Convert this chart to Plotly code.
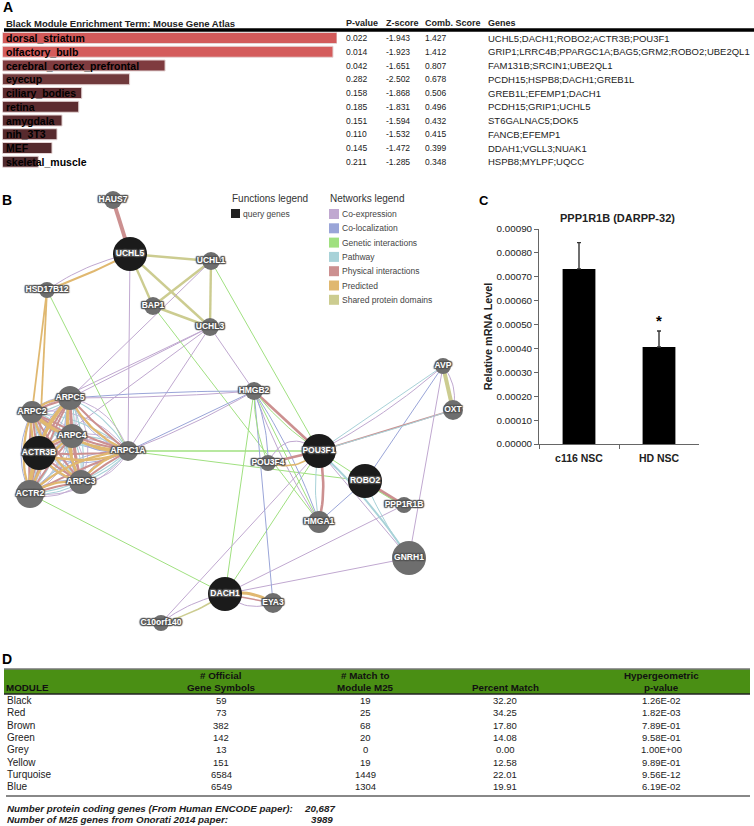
import plotly.graph_objects as go

W, H = 754, 826
FONT = "Liberation Sans"

# ---------- Panel A data ----------
a_terms = ["dorsal_striatum", "olfactory_bulb", "cerebral_cortex_prefrontal", "eyecup", "ciliary_bodies",
           "retina", "amygdala", "nih_3T3", "MEF", "skeletal_muscle"]
a_bar_length = [100, 98.8, 48.6, 38, 23.7, 22.8, 17.8, 16.3, 14.8, 10.7]
a_pvalue = ["0.022", "0.014", "0.042", "0.282", "0.158", "0.185", "0.151", "0.110", "0.145", "0.211"]
a_zscore = ["-1.943", "-1.923", "-1.651", "-2.502", "-1.868", "-1.831", "-1.594", "-1.532", "-1.472", "-1.285"]
a_comb = ["1.427", "1.412", "0.807", "0.678", "0.506", "0.496", "0.432", "0.415", "0.399", "0.348"]
a_genes = ["UCHL5;DACH1;ROBO2;ACTR3B;POU3F1", "GRIP1;LRRC4B;PPARGC1A;BAG5;GRM2;ROBO2;UBE2QL1",
           "FAM131B;SRCIN1;UBE2QL1", "PCDH15;HSPB8;DACH1;GREB1L", "GREB1L;EFEMP1;DACH1",
           "PCDH15;GRIP1;UCHL5", "ST6GALNAC5;DOK5", "FANCB;EFEMP1", "DDAH1;VGLL3;NUAK1", "HSPB8;MYLPF;UQCC"]
a_colors = ["#D25A5A", "#D45C5C", "#7F3B3F", "#713A3C", "#5E2B2F", "#5C2A2E", "#5A2B2E", "#572A2D", "#552A2D", "#4F2A2E"]

# ---------- Panel B data ----------
net_types = ["Co-expression", "Co-localization", "Genetic interactions", "Pathway",
             "Physical interactions", "Predicted", "Shared protein domains"]
net_colors = ["#C0A8D0", "#9AA5D8", "#A0E080", "#A8D2D8", "#CC9090", "#E0B870", "#CCCC90"]
node_names = ["HAUS7", "UCHL5", "UCHL1", "HSD17B12", "BAP1", "UCHL3", "ARPC5", "ARPC2", "ARPC4", "ACTR3B",
              "ARPC1A", "ARPC3", "ACTR2", "DACH1", "C10orf140", "HMGB2", "AVP", "OXT", "POU3F1", "POU3F4",
              "ROBO2", "PPP1R1B", "HMGA1", "GNRH1", "EYA3"]
node_x = [113, 130, 211, 47, 153, 210, 70, 32, 72, 39, 128, 81, 30, 225, 161, 254, 443, 453, 319, 268, 365, 404, 319, 409, 273]
node_y = [200, 254, 261, 290, 306, 327, 398, 412, 436, 453, 451, 482, 494, 594, 623, 391, 366, 410, 451, 463, 481, 505, 522, 558, 603]
node_r = [9, 17, 9, 8, 9, 9, 12, 11, 12, 17, 10, 12, 14, 17, 8, 9, 8, 10, 17, 8, 17, 8, 11, 17, 10]
query_genes = ["UCHL5", "ACTR3B", "DACH1", "POU3F1", "ROBO2"]

CE, CL, GI, PW, PH, PR, SD = net_types
edges = [
    ("HAUS7", "UCHL5", PH, 4, 0),
    ("UCHL5", "UCHL1", SD, 2.4, 0), ("UCHL5", "BAP1", SD, 2.4, 0), ("UCHL5", "UCHL3", SD, 2.4, 0),
    ("UCHL1", "BAP1", SD, 2.4, 0), ("UCHL1", "UCHL3", SD, 2.4, 0), ("BAP1", "UCHL3", SD, 2.4, 0),
    ("UCHL5", "HSD17B12", PR, 2, -0.015), ("UCHL5", "HSD17B12", CE, 1, 0.05),
    ("UCHL5", "ARPC1A", CE, 1, 0), ("UCHL1", "ARPC5", CE, 1, 0), ("UCHL3", "ARPC2", CE, 1, 0),
    ("UCHL3", "ACTR3B", CE, 1, 0), ("UCHL3", "ARPC1A", CE, 1, 0), ("UCHL3", "HMGB2", CE, 1, 0),
    ("UCHL3", "ARPC5", CE, 1, 0),
    ("UCHL1", "POU3F1", GI, 1, 0), ("BAP1", "HMGA1", GI, 1, 0), ("HSD17B12", "ARPC1A", GI, 1, 0),
    ("HSD17B12", "ARPC2", PR, 1.8, 0), ("HSD17B12", "ACTR3B", PR, 1.8, 0),
    ("ARPC5", "HMGB2", CL, 1, -0.01), ("ARPC5", "HMGB2", CE, 1, 0.01),
    ("ARPC1A", "HMGB2", CL, 1, 0), ("ARPC1A", "HMGB2", CE, 1, 0.02),
    ("ARPC1A", "POU3F1", GI, 1.5, 0), ("ARPC1A", "ROBO2", GI, 1, 0), ("ACTR2", "DACH1", GI, 1, 0),
    ("DACH1", "HMGB2", GI, 1, 0), ("DACH1", "POU3F1", GI, 1, 0),
    ("C10orf140", "POU3F1", CE, 1, 0), ("C10orf140", "DACH1", CE, 1, -0.06), ("C10orf140", "DACH1", SD, 1.5, 0.04),
    ("DACH1", "EYA3", PR, 3, -0.1), ("DACH1", "EYA3", PH, 1.4, 0), ("DACH1", "EYA3", CE, 1, 0.15),
    ("DACH1", "GNRH1", CE, 1, 0), ("DACH1", "PPP1R1B", CE, 1, 0),
    ("EYA3", "HMGB2", CL, 1, 0),
    ("HMGB2", "POU3F1", PH, 2.6, 0), ("HMGB2", "POU3F1", GI, 1, 0.04),
    ("HMGB2", "HMGA1", GI, 1, 0), ("HMGB2", "HMGA1", CE, 1, 0.03), ("HMGB2", "HMGA1", CL, 1, -0.03),
    ("HMGB2", "POU3F4", GI, 1, 0.05), ("HMGB2", "POU3F4", CL, 1, -0.05),
    ("POU3F1", "POU3F4", PH, 2.6, 0), ("POU3F1", "POU3F4", PR, 1.6, -0.15), ("POU3F1", "POU3F4", CE, 1, 0.3),
    ("POU3F1", "HMGA1", PH, 2.6, -0.06), ("POU3F1", "HMGA1", PW, 1, 0.05),
    ("POU3F1", "ROBO2", GI, 1, 0), ("POU3F1", "GNRH1", CE, 1, 0), ("POU3F1", "GNRH1", PW, 2, -0.03),
    ("ROBO2", "GNRH1", PW, 1, 0.03), ("ROBO2", "PPP1R1B", PH, 3.2, 0), ("ROBO2", "PPP1R1B", GI, 1, 0.04),
    ("ROBO2", "HMGA1", CL, 1, 0), ("ROBO2", "AVP", CL, 1, 0),
    ("POU3F1", "AVP", PW, 1, 0), ("POU3F1", "AVP", CE, 1, 0.03),
    ("POU3F1", "OXT", PH, 1.4, 0), ("POU3F1", "OXT", PW, 1, 0.005),
    ("AVP", "OXT", SD, 4, 0), ("AVP", "OXT", CE, 1, -0.12), ("AVP", "GNRH1", CE, 1, 0),
]
arp_cluster = ["ARPC5", "ARPC2", "ARPC4", "ACTR3B", "ARPC1A", "ARPC3", "ACTR2"]
cluster_styles = [(CL, 0.9, 0.12), (CE, 0.9, -0.14), (PW, 1.1, -0.08), (PH, 2, 0.02), (PR, 2.3, 0.09)]

# ---------- Panel C data ----------
c_groups = ["c116 NSC", "HD NSC"]
c_values = [0.000733, 0.000406]
c_errors = [0.000110, 0.000067]
c_ticks = [0.0, 0.0001, 0.0002, 0.0003, 0.0004, 0.0005, 0.0006, 0.0007, 0.0008, 0.0009]

# ---------- Panel D data ----------
d_modules = ["Black", "Red", "Brown", "Green", "Grey", "Yellow", "Turquoise", "Blue"]
d_symbols = ["59", "73", "382", "142", "13", "151", "6584", "6549"]
d_match = ["19", "25", "68", "20", "0", "19", "1449", "1304"]
d_percent = ["32.20", "34.25", "17.80", "14.08", "0.00", "12.58", "22.01", "19.91"]
d_pvalue = ["1.26E-02", "1.82E-03", "7.89E-01", "9.58E-01", "1.00E+00", "9.89E-01", "9.56E-12", "6.19E-02"]

# ---------- helpers ----------
def px(x):
    return x / W

def py(y):
    return 1 - y / H

annots = []
def txt(x, y, s, size=8.5, bold=False, italic=False, anchor="left", color="#222222"):
    if bold:
        s = f"<b>{s}</b>"
    if italic:
        s = f"<i>{s}</i>"
    annots.append(dict(x=x, y=y, xref="x3", yref="y3", text=s, showarrow=False, xanchor=anchor,
                       yanchor="middle", borderpad=0, font=dict(family=FONT, size=size, color=color)))

shapes = []
def rect(x0, y0, x1, y1, color):
    shapes.append(dict(type="rect", xref="x3", yref="y3", x0=x0, x1=x1, y0=y0, y1=y1,
                       fillcolor=color, line=dict(width=0), layer="below"))

def hline(x0, x1, y, color, width):
    shapes.append(dict(type="line", xref="x3", yref="y3", x0=x0, x1=x1, y0=y, y1=y,
                       line=dict(color=color, width=width), layer="below"))

fig = go.Figure()

# ---------- B: network (drawn first so it sits underneath) ----------
pos = {n: (x, y) for n, x, y in zip(node_names, node_x, node_y)}
color_of = dict(zip(net_types, net_colors))

def curve(a, b, bend):
    (x0, y0), (x1, y1) = pos[a], pos[b]
    if bend == 0:
        return [x0, x1], [y0, y1]
    mx, my = (x0 + x1) / 2 - (y1 - y0) * bend * 2, (y0 + y1) / 2 + (x1 - x0) * bend * 2
    xs, ys = [], []
    for i in range(17):
        t = i / 16
        xs.append((1 - t) ** 2 * x0 + 2 * t * (1 - t) * mx + t ** 2 * x1)
        ys.append((1 - t) ** 2 * y0 + 2 * t * (1 - t) * my + t ** 2 * y1)
    return xs, ys

all_edges = list(edges)
for typ, w, bend in cluster_styles:
    for i, a in enumerate(arp_cluster):
        for b in arp_cluster[i + 1:]:
            all_edges.append((a, b, typ, w, bend))

for a, b, typ, w, bend in all_edges:
    xs, ys = curve(a, b, bend)
    fig.add_trace(go.Scatter(x=xs, y=ys, xaxis="x3", yaxis="y3", mode="lines", hoverinfo="skip", showlegend=False,
                             line=dict(color=color_of[typ], width=w)))

halo = ", ".join(f"{dx}px {dy}px 1px #555" for dx, dy in [(1, 0), (-1, 0), (0, 1), (0, -1), (1, 1), (-1, -1), (1, -1), (-1, 1)])
fig.add_trace(go.Scatter(
    x=node_x, y=node_y, xaxis="x3", yaxis="y3", mode="markers+text", text=node_names, textposition="middle center",
    showlegend=False, hoverinfo="text",
    marker=dict(size=[2 * r for r in node_r], opacity=1,
                color=["#1B1B1B" if n in query_genes else "#6E6E6E" for n in node_names], line=dict(width=0)),
    textfont=dict(family=FONT, size=8.5, color="white", weight="bold", shadow=halo),
))

txt(231, 198, "Functions legend", 10, color="#333333")
rect(231, 209, 240, 218, "#222222")
txt(242, 214, "query genes", 8.5, color="#444444")
txt(329, 198, "Networks legend", 10, color="#333333")
for i, (name, col) in enumerate(zip(net_types, net_colors)):
    y0 = 209 + i * 14.3
    rect(329, y0, 339, y0 + 10, col)
    txt(341, y0 + 5, name, 8.5, color="#444444")

# ---------- A ----------
fig.add_trace(go.Bar(y=a_terms, x=a_bar_length, orientation="h", xaxis="x", yaxis="y", showlegend=False,
                     marker=dict(color=a_colors, line=dict(color="#E6D6D6", width=1)), width=0.8, hoverinfo="y"))

ROW0, ROWH = 38.0, 13.75
txt(2, 7, "A", 14, bold=True, color="black")
txt(5, 23, "Black Module Enrichment Term: Mouse Gene Atlas", 9.5, bold=True)
for x, s in [(345, "P-value"), (385, "Z-score"), (424, "Comb. Score"), (487, "Genes")]:
    txt(x, 23, s, 9, bold=True)
hline(4, 754, 30, "#000000", 3.5)
for i in range(len(a_terms)):
    y = ROW0 + i * ROWH
    txt(5, y, a_terms[i], 10.5, bold=True, color="black")
    txt(345, y, a_pvalue[i], 8.5)
    txt(385, y, a_zscore[i], 8.5)
    txt(424, y, a_comb[i], 8.5)
    txt(487, y, a_genes[i], 9.5)

# ---------- C ----------
fig.add_trace(go.Bar(x=c_groups, y=c_values, xaxis="x2", yaxis="y2", width=0.41, showlegend=False,
                     marker=dict(color="black", line=dict(width=0)),
                     error_y=dict(type="data", symmetric=False, array=c_errors, arrayminus=[0, 0],
                                  color="#333333", thickness=1.4, width=2)))
txt(478, 200, "C", 13, bold=True, color="black")
txt(617, 218, "PPP1R1B (DARPP-32)", 11, bold=True, anchor="center")
annots.append(dict(x=c_groups[1], y=0.000515, xref="x2", yref="y2", text="<b>*</b>", showarrow=False,
                   font=dict(family=FONT, size=15, color="black")))

# ---------- D ----------
txt(1, 659, "D", 14, bold=True, color="black")
rect(4, 669, 750, 694, "#4A8F14")
hline(4, 750, 669, "#777777", 1.5)
hline(4, 750, 694, "#222222", 1.5)
COLS = [221, 365, 505, 661]
txt(5, 687, "MODULE", 9.8, bold=True, color="#111111")
txt(COLS[0], 675, "# Official", 9.8, bold=True, anchor="center", color="#111111")
txt(COLS[0], 687, "Gene Symbols", 9.8, bold=True, anchor="center", color="#111111")
txt(COLS[1], 675, "# Match to", 9.8, bold=True, anchor="center", color="#111111")
txt(COLS[1], 687, "Module M25", 9.8, bold=True, anchor="center", color="#111111")
txt(COLS[2], 687, "Percent Match", 9.8, bold=True, anchor="center", color="#111111")
txt(COLS[3], 675, "Hypergeometric", 9.8, bold=True, anchor="center", color="#111111")
txt(COLS[3], 687, "p-value", 9.8, bold=True, anchor="center", color="#111111")
for i in range(len(d_modules)):
    y = 700.3 + i * 12.35
    txt(6, y, d_modules[i], 10)
    for x, col in zip(COLS, [d_symbols, d_match, d_percent, d_pvalue]):
        txt(x, y, col[i], 9.5, anchor="center")
hline(6, 750, 796, "#888888", 2)
txt(6, 808, "Number protein coding genes (From Human ENCODE paper):", 9.8, bold=True, italic=True)
txt(337, 808, "20,687", 9.8, bold=True, italic=True, anchor="right")
txt(6, 819, "Number of M25 genes from Onorati 2014 paper:", 9.8, bold=True, italic=True)
txt(334, 819, "3989", 9.8, bold=True, italic=True, anchor="right")
txt(1, 200, "B", 14, bold=True, color="black")

hidden = dict(visible=False, showgrid=False, zeroline=False)
fig.update_layout(
    width=W, height=H, margin=dict(l=0, r=0, t=0, b=0, autoexpand=False), paper_bgcolor="white",
    plot_bgcolor="rgba(0,0,0,0)",
    font=dict(family=FONT), showlegend=False, bargap=0.2, shapes=shapes, annotations=annots,
    xaxis=dict(hidden, domain=[px(2.5), px(337)], range=[0, 100], anchor="y"),
    yaxis=dict(hidden, domain=[py(ROW0 + 9.5 * ROWH), py(ROW0 - 0.5 * ROWH)], autorange=False,
               range=[9.5, -0.5], type="category", categoryorder="array", categoryarray=a_terms, anchor="x"),
    xaxis2=dict(domain=[px(539), px(699)], type="category", categoryorder="array", categoryarray=c_groups,
                range=[-0.5, 1.5], anchor="y2", showgrid=False, zeroline=False, showline=True, linecolor="#666666",
                linewidth=1, ticks="outside", tickson="boundaries", ticklen=4, tickcolor="#666666",
                ticklabelstandoff=4,
                tickfont=dict(family=FONT, size=10.5, color="#222222", weight="bold")),
    yaxis2=dict(domain=[py(444), py(229)], range=[0, 0.0009], anchor="x2", tickvals=c_ticks, tickformat=".5f",
                showgrid=False, zeroline=False, showline=True, linecolor="#666666", linewidth=1, ticks="outside",
                ticklen=4, tickcolor="#666666", tickfont=dict(family=FONT, size=9.8, color="#222222"),
                title=dict(text="<b>Relative mRNA Level</b>", standoff=1,
                           font=dict(family=FONT, size=10.8, color="#222222"))),
    xaxis3=dict(hidden, domain=[0, 1], range=[0, W], anchor="y3"),
    yaxis3=dict(hidden, domain=[0, 1], range=[H, 0], anchor="x3"),
)
fig.write_html("out.html", config={"displayModeBar": False},
               post_script="document.body.style.margin='0';document.body.style.overflow='hidden';")
